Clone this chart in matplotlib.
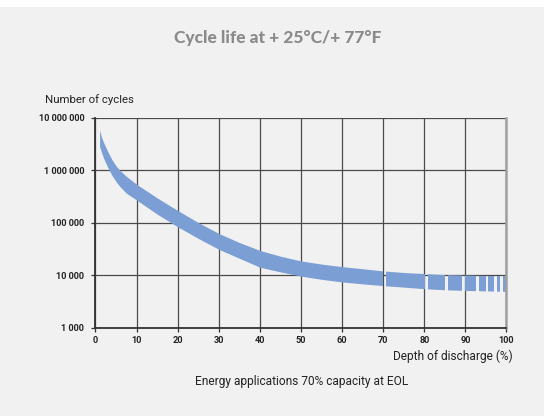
import numpy as np
import matplotlib.pyplot as plt
from matplotlib.path import Path
from matplotlib.patches import Rectangle
from matplotlib.ticker import FixedLocator, NullLocator

# depth of discharge (%) and the upper / lower edge of the cycle-life band
dod = [1, 1.5, 2, 3, 4, 5, 6, 7.5, 10, 15, 20, 25, 30, 35, 40, 45, 50, 55,
       60, 65, 70, 75, 80, 85, 90, 95, 100]
cycles_hi = [5750000, 4170000, 3310000, 2240000, 1580000, 1200000, 977000,
             759000, 537000, 295000, 170000, 100000, 62000, 41700, 29500,
             22900, 18600, 16200, 14500, 13200, 12000, 11200, 10700, 10200,
             10000, 9800, 9800]
cycles_lo = [2820000, 2140000, 1660000, 1120000, 794000, 603000, 479000,
             363000, 269000, 145000, 83000, 50000, 31000, 20900, 14100,
             11500, 9550, 8300, 7400, 6800, 6300, 5900, 5500, 5250, 5100,
             5000, 4900]

# white breaks in the band near the right end (start, end in %)
gaps = [(69.95, 70.6), (80.2, 81.0), (85.0, 85.8), (89.2, 90.0),
        (92.5, 93.2), (94.9, 95.6), (96.9, 97.7), (98.5, 99.2)]

x_ticks = [0, 10, 20, 30, 40, 50, 60, 70, 80, 90, 100]
y_ticks = [1e3, 1e4, 1e5, 1e6, 1e7]
y_labels = ['1 000', '10 000', '100 000', '1 000 000', '10 000 000']

fig = plt.figure(figsize=(5.44, 4.16), dpi=100, facecolor='#f1f1f1')
# white strip along the top edge
fig.patches.append(Rectangle((0, 1 - 7 / 416), 1, 7 / 416, transform=fig.transFigure,
                             facecolor='white', edgecolor='none', zorder=0))
ax = fig.add_axes([0.1755, 0.2125, 0.7555, 0.505])
ax.set_facecolor('none')

ax.set_yscale('log')
ax.set_xlim(0, 100)
ax.set_ylim(1e3, 1e7)

# grid
ax.xaxis.set_major_locator(FixedLocator(x_ticks))
ax.yaxis.set_major_locator(FixedLocator(y_ticks))
ax.yaxis.set_minor_locator(NullLocator())
ax.grid(True, which='major', color='#4a4a4a', linewidth=0.9, zorder=1)
ax.set_axisbelow(True)

band = ax.fill_between(dod, cycles_lo, cycles_hi, color='#7b9fd4', linewidth=0, zorder=2)

# cut the gaps out of the band with a clip path
edges = [0] + [v for g in gaps for v in g] + [100]
verts, codes = [], []
for a, b in zip(edges[::2], edges[1::2]):
    verts += [(a, 1e3), (b, 1e3), (b, 1e7), (a, 1e7), (a, 1e3)]
    codes += [Path.MOVETO, Path.LINETO, Path.LINETO, Path.LINETO, Path.CLOSEPOLY]
band.set_clip_path(Path(verts, codes), ax.transData)

ax.spines['top'].set_visible(False)
ax.spines['right'].set_color('#a0a0a0')
ax.spines['right'].set_linewidth(1.8)
ax.spines['left'].set_color('#333333')
ax.spines['left'].set_linewidth(1.3)
ax.spines['bottom'].set_color('#333333')
ax.spines['bottom'].set_linewidth(1.3)

tick_font = dict(family=['Roboto', 'DejaVu Sans'], weight='bold', size=6.6)
ax.set_yticklabels(y_labels, **tick_font, color='#222222')
ax.set_xticklabels([str(t) for t in x_ticks], **tick_font, color='#222222')
ax.tick_params(axis='both', length=3, width=0.9, color='#333333', pad=3)
ax.tick_params(axis='y', pad=5)

txt_font = ['Roboto', 'DejaVu Sans']
fig.text(0.511, 0.909, 'Cycle life at + 25°C/+ 77°F', ha='center', va='center',
         family=['Lato', 'DejaVu Sans'], weight=900, size=12.5, color='#8a8a8a')
fig.text(45 / 544, 1 - 99.5 / 416, 'Number of cycles', ha='left', va='center',
         family=txt_font, size=8.2, color='#222222')
fig.text(512.5 / 544, 1 - 356 / 416, 'Depth of discharge (%)', ha='right', va='center',
         family=txt_font, size=8.6, color='#222222')
fig.text(301.5 / 544, 1 - 382 / 416, 'Energy applications 70% capacity at EOL', ha='center',
         va='center', family=txt_font, size=8.6, color='#222222')

fig.savefig('out.png', dpi=100, facecolor=fig.get_facecolor())
